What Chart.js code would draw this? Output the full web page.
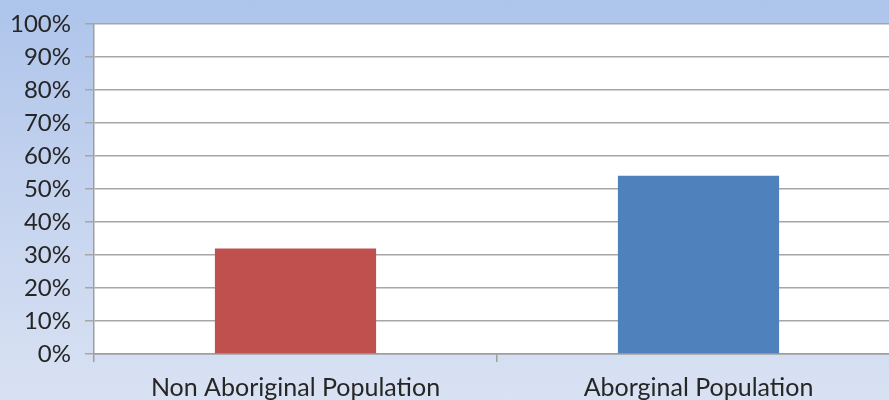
<!DOCTYPE html>
<html>
<head>
<meta charset="utf-8">
<script src="https://cdn.jsdelivr.net/npm/chart.js@4/dist/chart.umd.min.js"></script>
<style>
    html, body { margin: 0; padding: 0; }
    body {
        width: 889px;
        height: 400px;
        overflow: hidden;
        position: relative;
        background: linear-gradient(to bottom, #adc4eb 0%, #c3d2ee 45%, #d9e2f3 100%);
    }
    #wrap { position: absolute; left: 0; top: 0; width: 900px; height: 412px; }
</style>
</head>
<body>
<div id="wrap"><canvas id="barChart"></canvas></div>
<script>
const categories = ['Non Aboriginal Population', 'Aborginal Population'];
const shares = [32, 54];
const barColors = ['#c0504d', '#4f81bd'];
const yTicks = [0, 10, 20, 30, 40, 50, 60, 70, 80, 90, 100];

const plotBackground = {
    id: 'plotBackground',
    beforeDraw(chart) {
        const { ctx, chartArea } = chart;
        ctx.save();
        ctx.fillStyle = '#ffffff';
        ctx.fillRect(chartArea.left, chartArea.top, chartArea.right - chartArea.left, chartArea.bottom - chartArea.top);
        ctx.restore();
    }
};

const fontFamily = "Lato, 'Open Sans', sans-serif";

new Chart(document.getElementById('barChart').getContext('2d'), {
    type: 'bar',
    data: {
        labels: categories,
        datasets: [{
            data: shares,
            backgroundColor: barColors,
            borderWidth: 0,
            categoryPercentage: 0.4,
            barPercentage: 1
        }]
    },
    options: {
        responsive: true,
        maintainAspectRatio: false,
        animation: false,
        layout: { padding: { top: 24, left: 0, right: 0, bottom: 0 } },
        plugins: { legend: { display: false }, tooltip: { enabled: false } },
        scales: {
            x: {
                afterFit(scale) { scale.height = 58; },
                grid: { display: true, drawOnChartArea: false, offset: true, color: '#9e9e9e', lineWidth: 1.5, tickLength: 8 },
                border: { display: true, color: '#9e9e9e', width: 1.5 },
                ticks: { color: '#262626', font: { family: fontFamily, size: 25 }, padding: 11, maxRotation: 0 }
            },
            y: {
                min: 0,
                max: 100,
                afterFit(scale) {
                    scale.width = 94;
                    scale.paddingTop = 0;
                    scale.paddingBottom = 0;
                },
                afterBuildTicks(scale) { scale.ticks = yTicks.map(v => ({ value: v })); },
                grid: { color: '#a6a6a6', lineWidth: 1.5, tickLength: 9 },
                border: { display: true, color: '#9e9e9e', width: 1.5 },
                ticks: {
                    color: '#262626',
                    font: { family: fontFamily, size: 24 },
                    padding: 14,
                    callback: v => v + '%'
                }
            }
        }
    },
    plugins: [plotBackground]
});
</script>
</body>
</html>
